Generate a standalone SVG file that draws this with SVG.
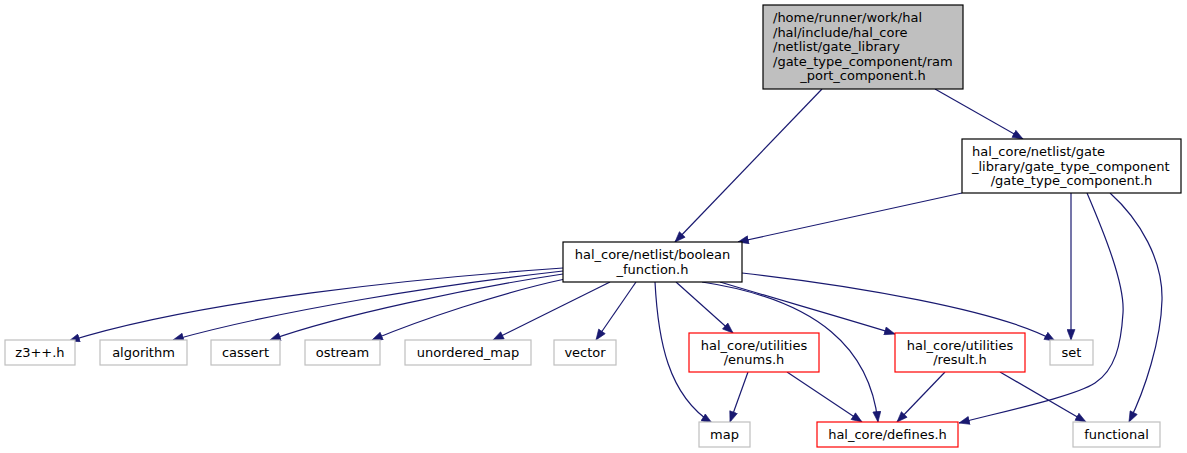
<svg xmlns="http://www.w3.org/2000/svg" width="1187" height="453" viewBox="0 0 1187 453">
<style>
text{font-family:"DejaVu Sans","Liberation Sans",sans-serif;font-size:13px;fill:#000}
.c{text-anchor:middle}
.s{text-anchor:start}
.root{fill:#bfbfbf;stroke:#000;stroke-width:1.2}
.nb{fill:#fff;stroke:#000;stroke-width:1.2}
.ng{fill:#fff;stroke:#bfbfbf;stroke-width:1.2}
.nr{fill:#fff;stroke:#ff0000;stroke-width:1.2}
.e{fill:none;stroke:#191970;stroke-width:1.2;marker-end:url(#ah)}
</style>
<defs>
<marker id="ah" markerUnits="userSpaceOnUse" markerWidth="12" markerHeight="9" refX="11" refY="4.5" orient="auto">
<path d="M0.5,0.5 L11,4.5 L0.5,8.5 z" fill="#191970" stroke="#191970" stroke-width="0.6"/>
</marker>
</defs>
<g id="connectors">
<path class="e" d="M822,89 L675,242"/>
<path class="e" d="M935,89 L1023,139"/>
<path class="e" d="M962,193 L738,242"/>
<path class="e" d="M1071,193 L1071,340"/>
<path class="e" d="M1087,193 C1105,235 1125,285 1123,313 C1121,345 1115,370 1095,383 C1075,396 1010,410 959,423"/>
<path class="e" d="M1110,193 C1140,220 1163,260 1162,300 C1161,340 1145,390 1129,422"/>
<path class="e" d="M563,268 C420,278 200,300 69,341"/>
<path class="e" d="M563,271 C440,285 280,310 173,340"/>
<path class="e" d="M563,274 C470,288 340,315 270,340"/>
<path class="e" d="M565,279 C500,293 420,320 372,340"/>
<path class="e" d="M610,282 L493,340"/>
<path class="e" d="M636,282 L596,340"/>
<path class="e" d="M655,282 C658,340 668,395 712,423"/>
<path class="e" d="M676,282 L733,333"/>
<path class="e" d="M702,282 C820,300 870,350 878,422"/>
<path class="e" d="M720,282 C780,300 850,320 895,334"/>
<path class="e" d="M742,273 C850,285 1000,310 1055,341"/>
<path class="e" d="M748,372 L730,422"/>
<path class="e" d="M787,372 L862,422"/>
<path class="e" d="M945,372 L897,422"/>
<path class="e" d="M1000,372 L1086,422"/>
</g>
<g id="root">
<rect class="root" x="763" y="5" width="200" height="84"/>
<text class="s" x="773" y="22">/home/runner/work/hal</text>
<text class="s" x="773" y="36.5">/hal/include/hal_core</text>
<text class="s" x="773" y="51">/netlist/gate_library</text>
<text class="s" x="773" y="65.5">/gate_type_component/ram</text>
<text class="c" x="863" y="80">_port_component.h</text>
</g>
<g id="gate_type_component">
<rect class="nb" x="962" y="139" width="219" height="54"/>
<text class="s" x="972" y="156">hal_core/netlist/gate</text>
<text class="s" x="972" y="170.5">_library/gate_type_component</text>
<text class="c" x="1071.5" y="185">/gate_type_component.h</text>
</g>
<g id="boolean_function">
<rect class="nb" x="563" y="242" width="179" height="40"/>
<text class="c" x="652.5" y="259">hal_core/netlist/boolean</text>
<text class="c" x="652.5" y="273.5">_function.h</text>
</g>
<g id="z3"><rect class="ng" x="5" y="340" width="70" height="25"/><text class="c" x="40" y="357">z3++.h</text></g>
<g id="algorithm"><rect class="ng" x="100" y="340" width="87" height="25"/><text class="c" x="143.5" y="357">algorithm</text></g>
<g id="cassert"><rect class="ng" x="211" y="340" width="69" height="25"/><text class="c" x="245.5" y="357">cassert</text></g>
<g id="ostream"><rect class="ng" x="305" y="340" width="75" height="25"/><text class="c" x="342.5" y="357">ostream</text></g>
<g id="unordered_map"><rect class="ng" x="405" y="340" width="126" height="25"/><text class="c" x="468" y="357">unordered_map</text></g>
<g id="vector"><rect class="ng" x="554" y="340" width="62" height="25"/><text class="c" x="585" y="357">vector</text></g>
<g id="enums">
<rect class="nr" x="689" y="333" width="130" height="39"/>
<text class="c" x="754" y="349.5">hal_core/utilities</text>
<text class="c" x="754" y="364">/enums.h</text>
</g>
<g id="result">
<rect class="nr" x="895" y="333" width="130" height="39"/>
<text class="c" x="960" y="349.5">hal_core/utilities</text>
<text class="c" x="960" y="364">/result.h</text>
</g>
<g id="set"><rect class="ng" x="1050" y="340" width="43" height="25"/><text class="c" x="1071.5" y="357">set</text></g>
<g id="map"><rect class="ng" x="699" y="422" width="51" height="25"/><text class="c" x="724.5" y="439">map</text></g>
<g id="defines"><rect class="nr" x="817" y="422" width="141" height="25"/><text class="c" x="887.5" y="439">hal_core/defines.h</text></g>
<g id="functional"><rect class="ng" x="1073" y="422" width="87" height="25"/><text class="c" x="1116.5" y="439">functional</text></g>
</svg>
